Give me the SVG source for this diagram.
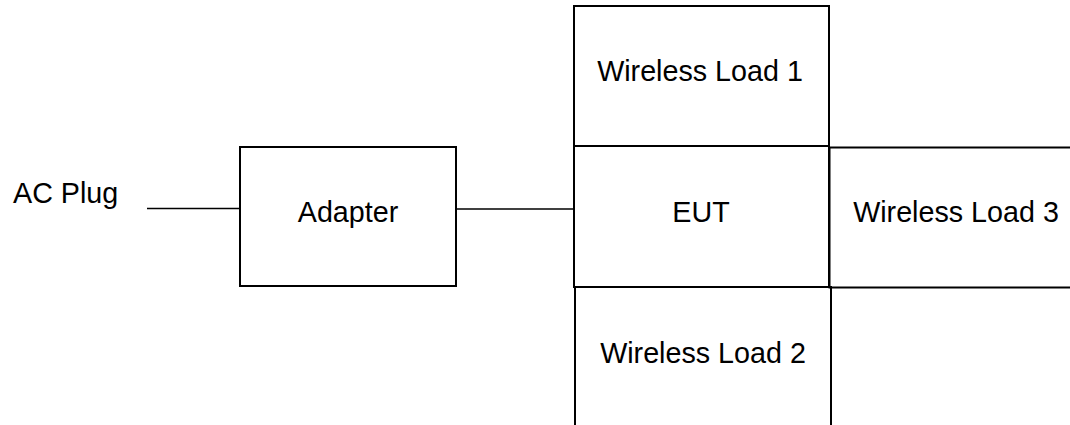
<svg xmlns="http://www.w3.org/2000/svg" width="1070" height="425" viewBox="0 0 1070 425">
<style>
.box{fill:none;stroke:#000;stroke-width:2}
.ln{fill:none;stroke:#000;stroke-width:1.6}
.t{font-family:"Liberation Sans",Arial,sans-serif;font-size:28.7px;fill:#000;text-anchor:middle}
</style>
<rect width="1070" height="425" fill="#fff"/>
<g id="ac-plug"><text class="t" x="13" y="203" style="text-anchor:start">AC Plug</text></g>
<g id="adapter"><rect class="box" x="240" y="147" width="216" height="139"/><text class="t" x="348" y="222">Adapter</text></g>
<g id="wireless-load-1"><rect class="box" x="574" y="6" width="255" height="140"/><text class="t" x="700" y="81">Wireless Load 1</text></g>
<g id="eut"><rect class="box" x="574" y="146" width="255" height="141"/><text class="t" x="701" y="222">EUT</text></g>
<g id="wireless-load-3"><path class="box" d="M1071 147.5 H829.5 V287.5 H1071"/><text class="t" x="956" y="222">Wireless Load 3</text></g>
<g id="wireless-load-2"><path class="box" d="M575 426 V287 H831 V426"/><text class="t" x="703" y="363">Wireless Load 2</text></g>
<g id="connectors">
<line class="ln" x1="147" y1="208.5" x2="240" y2="208.5"/>
<line class="ln" x1="456" y1="209" x2="574" y2="209"/>
</g>
</svg>
